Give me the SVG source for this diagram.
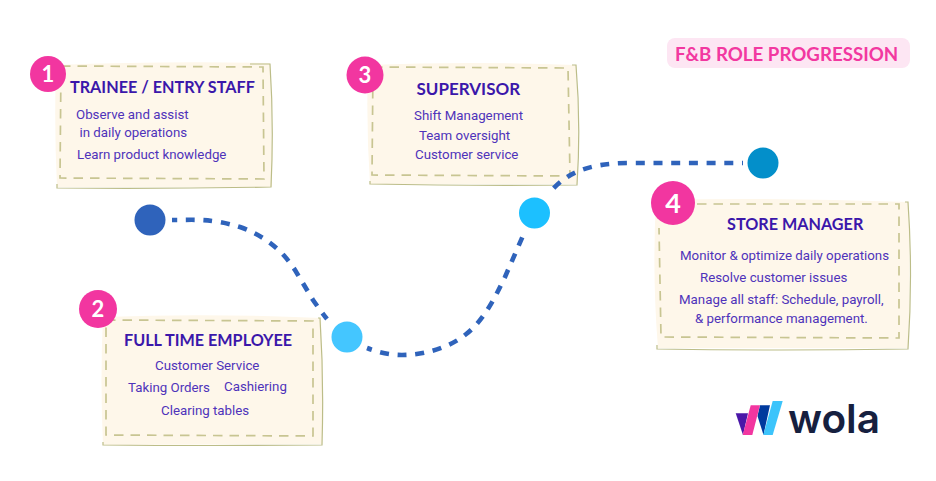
<svg xmlns="http://www.w3.org/2000/svg" width="936" height="481" viewBox="0 0 936 481">
<style>
.card{fill:#fef7ea}
.edge{fill:none;stroke:#bcbd88;stroke-width:1.2}
.dash{fill:none;stroke:#c8c592;stroke-width:1.700;stroke-dasharray:9.500 7}
.h{font-family:Lato,"Liberation Sans",sans-serif;font-weight:700;font-size:16.200px;fill:#3b17aa}
.b{font-family:Roboto,"Liberation Sans",sans-serif;font-size:13.300px;fill:#4e33ba}
.n{font-family:Lato,"Liberation Sans",sans-serif;font-weight:700;fill:#fff;text-anchor:middle}
.badge{fill:#f236a0}
.conn{fill:none;stroke:#2f63bb;stroke-width:4.600;stroke-dasharray:9 8.700;stroke-dashoffset:4}
</style>
<rect width="936" height="481" fill="#fff"/>
<g id="title"><rect x="667" y="38" width="243" height="30" rx="8" fill="#fde6f3"/><text x="675" y="60.500" font-family="Lato,'Liberation Sans',sans-serif" font-weight="700" font-size="18.700" fill="#f238a0">F&amp;B ROLE PROGRESSION</text></g>
<g id="node1">
<path class="card" d="M56 65Q160 61 270 63Q272 125 272 187L57 187Q54 125 56 65Z"/>
<path class="edge" d="M250 64L270 64Q274 125 271 187Q160 189 57 188L57 184"/>
<path class="dash" d="M61 66L263 67L264 179L60 178Z"/>
<circle class="badge" cx="48" cy="74" r="18"/><text class="n" x="48" y="82" font-size="22">1</text>
<text class="h" x="70" y="93">TRAINEE / ENTRY STAFF</text>
<text class="b" x="76" y="119">Observe and assist</text><text class="b" x="79.500" y="137">in daily operations</text><text class="b" x="77" y="159">Learn product knowledge</text>
</g>
<g id="node2">
<path class="card" d="M103 317Q210 313 321 318Q323 380 322 444L103 445Q100 380 103 317Z"/>
<path class="edge" d="M318 318L320 318Q324 380 322 445Q210 446 103 445L103 442"/>
<path class="dash" d="M106 320L313 321L313 436L106 435Z"/>
<circle class="badge" cx="98" cy="309" r="19"/><text class="n" x="98" y="317" font-size="22">2</text>
<text class="h" x="124" y="346">FULL TIME EMPLOYEE</text>
<text class="b" x="155" y="370">Customer Service</text><text class="b" x="128" y="392">Taking Orders</text><text class="b" x="224" y="391">Cashiering</text><text class="b" x="161" y="415">Clearing tables</text>
</g>
<g id="node3">
<path class="card" d="M368 65Q470 61 576 65Q579 125 577 184L370 184Q366 125 368 65Z"/>
<path class="edge" d="M572 65L576 65Q581 125 577 185Q470 186 370 184L370 181"/>
<path class="dash" d="M373 67L568 68L570 176L372 175Z"/>
<circle class="badge" cx="365" cy="75" r="18.500"/><text class="n" x="365" y="83" font-size="22">3</text>
<text class="h" x="416.500" y="95" style="font-size:17px">SUPERVISOR</text>
<text class="b" x="414" y="120">Shift Management</text><text class="b" x="419" y="140">Team oversight</text><text class="b" x="415" y="159">Customer service</text>
</g>
<g id="node4">
<path class="card" d="M656 200Q780 197 908 202Q911 275 908 348L658 348Q652 275 656 200Z"/>
<path class="edge" d="M905 202L908 202Q913 275 908 349Q780 351 657 349L657 345"/>
<path class="dash" d="M697 204L899 204L899 338L661 337L659 228"/>
<circle class="badge" cx="673" cy="203" r="22"/><text class="n" x="673" y="213" font-size="27">4</text>
<text class="h" x="727" y="230">STORE MANAGER</text>
<text class="b" x="680" y="260">Monitor &amp; optimize daily operations</text><text class="b" x="700" y="282">Resolve customer issues</text><text class="b" x="679" y="304">Manage all staff: Schedule, payroll,</text><text class="b" x="695" y="323">&amp; performance management.</text>
</g>
<g id="connectors">
<path class="conn" d="M172 220C195 220 210 218 240 227C265 236 282 250 295 270L313 300Q320 310 327 319"/>
<path class="conn" d="M367 348C380 353 392 355 402 355C425 355 450 347 465 335C485 320 497 293 505 277L525 231"/>
<path class="conn" style="stroke-dashoffset:8" d="M743 163L630 163C583 163 565 176 552 190"/>
</g>
<g id="stop1"><circle cx="150" cy="220" r="15.500" fill="#2f63bb"/></g>
<g id="stop2"><circle cx="347" cy="337" r="15.500" fill="#44c6ff"/></g>
<g id="stop3"><circle cx="534.500" cy="213" r="15.500" fill="#1cc0ff"/></g>
<g id="stop4"><circle cx="763" cy="163" r="15.500" fill="#038fca"/></g>
<g id="logo">
<path fill="#4a17a8" d="M735.700 413.300L748 413.300L743 435Z"/>
<path fill="#003a9e" d="M760 405.300L770 405.300L763.500 435L757.500 416Z"/>
<path fill="#f236a0" d="M750.700 405.300L760 405.300L752.300 435L742.700 435Z"/>
<path fill="#3cc4fb" d="M772.700 401L782.700 401L772.700 435L763.300 435Z"/>
<text x="788" y="433" font-family="Inter,'Liberation Sans',sans-serif" font-weight="600" font-size="40" fill="#16203f" textLength="92" lengthAdjust="spacingAndGlyphs">wola</text>
</g>
</svg>
